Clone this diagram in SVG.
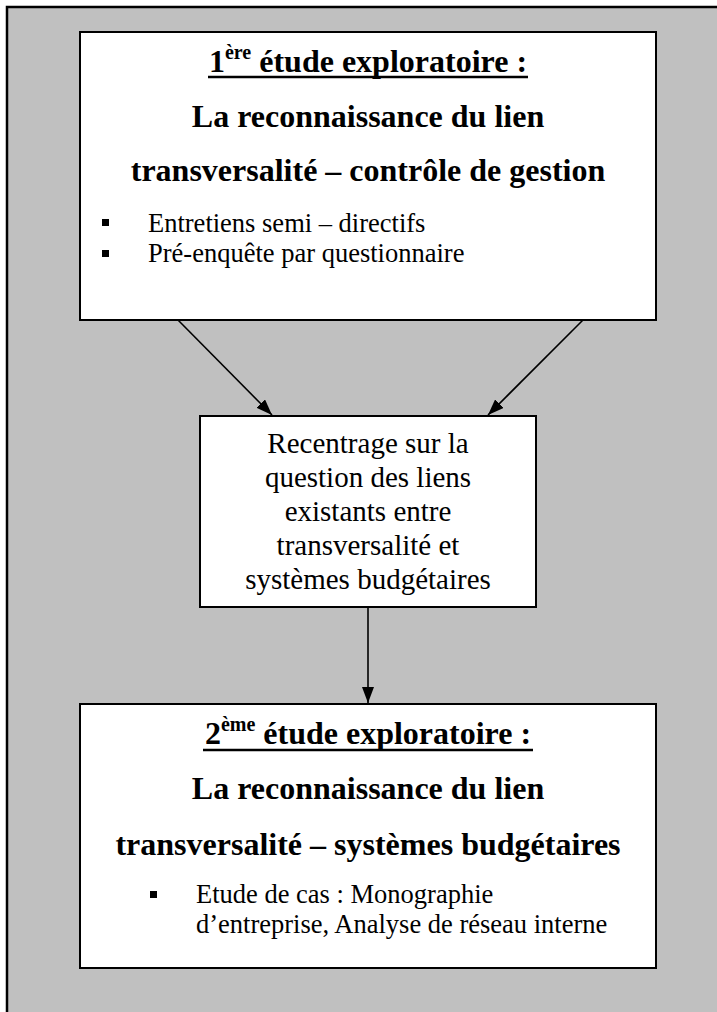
<svg xmlns="http://www.w3.org/2000/svg" width="717" height="1012" viewBox="0 0 717 1012">
  <style>
    .panel { fill: #c0c0c0; stroke: #000; stroke-width: 2.5; }
    .box { fill: #fff; stroke: #000; stroke-width: 2; }
    .head { font-family: "Liberation Serif", "Times New Roman", serif; font-weight: bold; font-size: 32px; text-anchor: middle; fill: #000; }
    .body { font-family: "Liberation Serif", "Times New Roman", serif; font-size: 26.5px; fill: #000; }
    .mid { font-family: "Liberation Serif", "Times New Roman", serif; font-size: 29px; text-anchor: middle; fill: #000; }
    .link { stroke: #000; stroke-width: 1.6; fill: none; marker-end: url(#arrow); }
    .rule { stroke: #000; stroke-width: 2.4; }
    .bullet { fill: #000; }
  </style>
  <defs>
    <marker id="arrow" viewBox="0 0 16 12" refX="16" refY="6" markerWidth="16" markerHeight="12" markerUnits="userSpaceOnUse" orient="auto">
      <path d="M0,0 L16,6 L0,12 Z" fill="#000"/>
    </marker>
  </defs>

  <rect width="717" height="1012" fill="#fff"/>
  <!-- grey background panel, open on the right and bottom -->
  <rect class="panel" x="7" y="7" width="730" height="1030"/>

  <g id="connectors">
    <line class="link" x1="177" y1="319" x2="272" y2="415"/>
    <line class="link" x1="584" y1="319" x2="488" y2="415"/>
    <line class="link" x1="368" y1="607" x2="368" y2="703"/>
  </g>

  <g id="etude1">
    <rect class="box" x="80" y="32" width="576" height="288"/>
    <text class="head" x="368" y="72">1<tspan font-size="20" dy="-13">ère</tspan><tspan dy="13"> étude exploratoire :</tspan></text>
    <line class="rule" x1="208" y1="77" x2="528" y2="77"/>
    <text class="head" x="368" y="127">La reconnaissance du lien</text>
    <text class="head" x="368" y="181">transversalité – contrôle de gestion</text>
    <rect class="bullet" x="102" y="219" width="7" height="7"/>
    <text class="body" x="148" y="232">Entretiens semi – directifs</text>
    <rect class="bullet" x="102" y="250" width="7" height="7"/>
    <text class="body" x="148" y="262">Pré-enquête par questionnaire</text>
  </g>

  <g id="recentrage">
    <rect class="box" x="200" y="416" width="336" height="191"/>
    <text class="mid" x="368" y="453">Recentrage sur la</text>
    <text class="mid" x="368" y="487">question des liens</text>
    <text class="mid" x="368" y="521">existants entre</text>
    <text class="mid" x="368" y="555">transversalité et</text>
    <text class="mid" x="368" y="589">systèmes budgétaires</text>
  </g>

  <g id="etude2">
    <rect class="box" x="80" y="704" width="576" height="264"/>
    <text class="head" x="368" y="744">2<tspan font-size="20" dy="-13">ème</tspan><tspan dy="13"> étude exploratoire :</tspan></text>
    <line class="rule" x1="203" y1="750" x2="533" y2="750"/>
    <text class="head" x="368" y="799">La reconnaissance du lien</text>
    <text class="head" x="368" y="855">transversalité – systèmes budgétaires</text>
    <rect class="bullet" x="150" y="891" width="7" height="7"/>
    <text class="body" x="196" y="903">Etude de cas : Monographie</text>
    <text class="body" x="196" y="933">d’entreprise, Analyse de réseau interne</text>
  </g>
</svg>
